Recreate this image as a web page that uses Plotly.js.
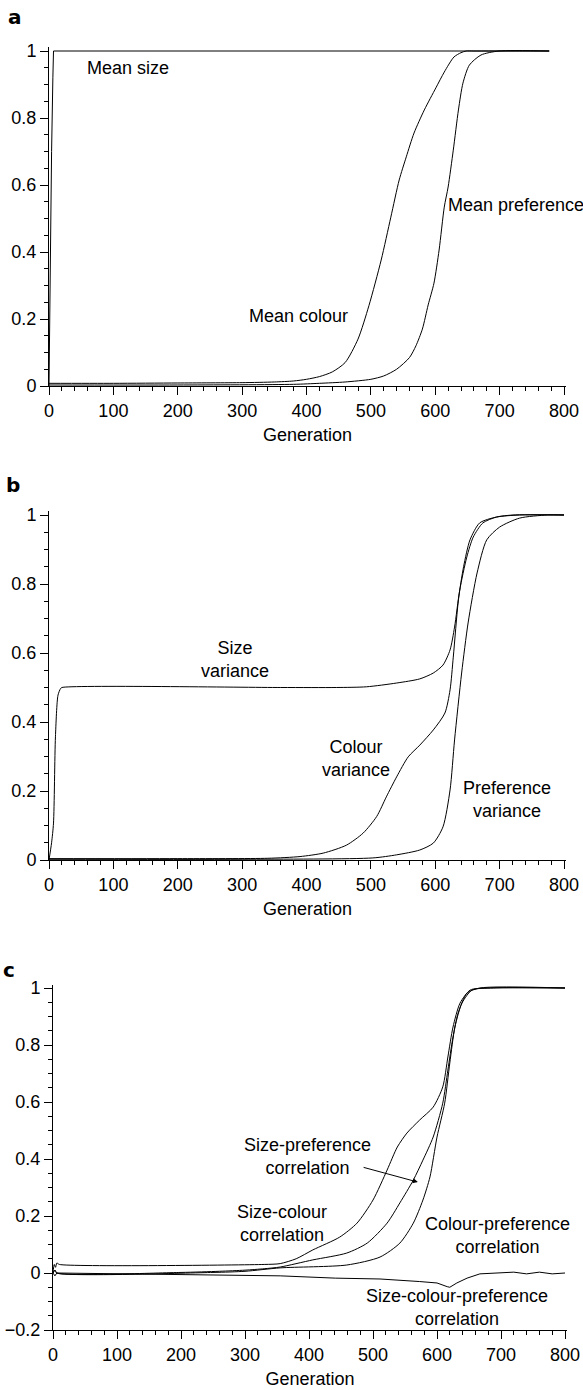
<!DOCTYPE html>
<html>
<head>
<meta charset="utf-8">
<script src="https://cdn.plot.ly/plotly-3.0.1.min.js"></script>
<style>html,body{margin:0;padding:0;background:#fff;}#chart{width:583px;height:1390px;}</style>
</head>
<body>
<div id="chart"></div>
<script>
// ---------- data ----------
const xTickVals = [0, 100, 200, 300, 400, 500, 600, 700, 800];
const xTickText = ["0", "100", "200", "300", "400", "500", "600", "700", "800"];
const yTickValsAB = [0, 0.2, 0.4, 0.6, 0.8, 1];
const yTickTextAB = ["0", "0.2", "0.4", "0.6", "0.8", "1"];
const yTickValsC = [-0.2, 0, 0.2, 0.4, 0.6, 0.8, 1];
const yTickTextC = ["\u22120.2", "0", "0.2", "0.4", "0.6", "0.8", "1"];

// panel a
const meanSizeGen = [0, 1, 2, 4, 6, 7, 777];
const meanSizeVal = [0, 0.2, 0.45, 0.7, 0.92, 1, 1];
const meanColourGen = [0, 100, 200, 300, 350, 380, 400, 420, 440, 460, 480, 497, 516, 531, 544, 555, 567, 583, 601, 614, 629, 640, 648, 660, 777];
const meanColourVal = [0.008, 0.008, 0.009, 0.01, 0.012, 0.015, 0.02, 0.028, 0.042, 0.07, 0.14, 0.24, 0.376, 0.504, 0.615, 0.684, 0.755, 0.824, 0.89, 0.937, 0.982, 0.995, 1, 1, 1];
const meanPrefGen = [0, 200, 380, 420, 460, 500, 520, 540, 560, 570, 580, 589, 598, 606, 614, 620, 628, 636, 643, 653, 671, 699, 777];
const meanPrefVal = [0.003, 0.003, 0.005, 0.008, 0.012, 0.02, 0.03, 0.05, 0.085, 0.12, 0.17, 0.242, 0.307, 0.406, 0.534, 0.594, 0.704, 0.824, 0.904, 0.958, 0.988, 1, 1];

// panel b
const sizeVarGen = [0, 4, 7, 10, 14, 18, 20, 360, 447, 493, 540, 576, 597, 612, 623, 630, 638, 649, 659, 674, 695, 721, 800];
const sizeVarVal = [0, 0.05, 0.107, 0.357, 0.478, 0.497, 0.5, 0.5, 0.5, 0.502, 0.513, 0.525, 0.542, 0.565, 0.609, 0.675, 0.782, 0.878, 0.936, 0.977, 0.994, 1, 1];
const colourVarGen = [0, 200, 340, 390, 426, 462, 488, 509, 524, 540, 558, 576, 597, 615, 623, 628, 636, 644, 654, 669, 695, 731, 800];
const colourVarVal = [0.004, 0.004, 0.005, 0.01, 0.02, 0.043, 0.078, 0.126, 0.183, 0.241, 0.299, 0.333, 0.377, 0.426, 0.493, 0.588, 0.754, 0.85, 0.928, 0.977, 0.994, 1, 1];
const prefVarGen = [0, 300, 503, 540, 576, 597, 612, 623, 630, 641, 651, 665, 680, 700, 731, 774, 800];
const prefVarVal = [0.002, 0.002, 0.006, 0.015, 0.029, 0.049, 0.096, 0.203, 0.348, 0.542, 0.687, 0.832, 0.928, 0.965, 0.991, 1, 1];

// panel c
const sizeColourGen = [0, 2, 4, 6, 10, 330, 355, 380, 406, 448, 475, 500, 522, 538, 553, 573, 594, 609, 617, 625, 636, 652, 678, 800];
const sizeColourVal = [0, 0.03, 0.02, 0.035, 0.03, 0.03, 0.033, 0.05, 0.081, 0.126, 0.175, 0.256, 0.361, 0.442, 0.491, 0.537, 0.582, 0.653, 0.758, 0.863, 0.947, 0.993, 1, 1];
const sizePrefGen = [0, 3, 6, 200, 260, 300, 330, 355, 406, 459, 491, 522, 542, 563, 578, 594, 609, 617, 625, 633, 647, 667, 800];
const sizePrefVal = [0, 0.01, 0, 0.002, 0.006, 0.01, 0.015, 0.021, 0.046, 0.07, 0.105, 0.175, 0.246, 0.326, 0.396, 0.477, 0.596, 0.712, 0.828, 0.912, 0.982, 1, 1];
const colourPrefGen = [0, 3, 6, 250, 300, 355, 459, 511, 542, 563, 578, 589, 600, 612, 620, 628, 639, 655, 688, 800];
const colourPrefVal = [0, 0.01, 0, 0.002, 0.006, 0.018, 0.028, 0.056, 0.105, 0.175, 0.256, 0.337, 0.477, 0.596, 0.737, 0.863, 0.947, 0.993, 1, 1];
const sizeColourPrefGen = [0, 3, 6, 100, 200, 300, 355, 441, 511, 573, 600, 616, 620, 631, 647, 667, 709, 720, 740, 760, 780, 800];
const sizeColourPrefVal = [0, -0.01, 0, -0.002, -0.005, -0.008, -0.01, -0.018, -0.021, -0.03, -0.035, -0.048, -0.05, -0.035, -0.018, -0.003, 0, 0.003, -0.003, 0.003, -0.003, 0];

// ---------- layout helpers (pixel placement of the three panels) ----------
const W = 583, H = 1390;
function xDom(p0, p800, lo, hi) { const k = (p800 - p0) / 800; return [(p0 + lo * k) / W, (p0 + hi * k) / W]; }
function yDom(pZero, pOne, lo, hi) { const k = pZero - pOne; return [1 - (pZero - lo * k) / H, 1 - (pZero - hi * k) / H]; }

const FONT = "Liberation Sans, Arial, Helvetica, sans-serif";

function tr(x, y, ax, smooth) {
  const line = smooth ? { color: "#000", width: 1, shape: "spline", smoothing: 0.7 } : { color: "#000", width: 1 };
  return { x: x, y: y, type: "scatter", mode: "lines", line: line, xaxis: "x" + ax, yaxis: "y" + ax, hoverinfo: "skip" };
}
const data = [
  tr(meanSizeGen, meanSizeVal, "", false),
  tr(meanColourGen, meanColourVal, "", true),
  tr(meanPrefGen, meanPrefVal, "", true),
  tr(sizeVarGen, sizeVarVal, "2", true),
  tr(colourVarGen, colourVarVal, "2", true),
  tr(prefVarGen, prefVarVal, "2", true),
  tr(sizeColourGen, sizeColourVal, "3", true),
  tr(sizePrefGen, sizePrefVal, "3", true),
  tr(colourPrefGen, colourPrefVal, "3", true),
  tr(sizeColourPrefGen, sizeColourPrefVal, "3", false)
];

function xAxis(anchor, domain) {
  return {
    anchor: anchor, domain: domain, range: [0, 803],
    tickmode: "array", tickvals: xTickVals, ticktext: xTickText,
    showline: true, linecolor: "#000", linewidth: 1, mirror: false,
    ticks: "outside", ticklen: 8, tickwidth: 1, tickcolor: "#000",
    minor: { ticks: "outside", ticklen: 4, tickwidth: 1, tickcolor: "#000", dtick: 20, tick0: 0, showgrid: false },
    showgrid: false, zeroline: false,
    tickfont: { family: FONT, size: 18, color: "#000" },
    title: { text: "Generation", font: { family: FONT, size: 18, color: "#000" }, standoff: 8 },
    fixedrange: true
  };
}
function yAxis(anchor, domain, range, vals, text) {
  return {
    anchor: anchor, domain: domain, range: range,
    tickmode: "array", tickvals: vals, ticktext: text,
    showline: true, linecolor: "#000", linewidth: 1,
    ticks: "outside", ticklen: 8, tickwidth: 1, tickcolor: "#000",
    minor: { ticks: "outside", ticklen: 4, tickwidth: 1, tickcolor: "#000", dtick: 0.05, tick0: 0, showgrid: false },
    showgrid: false, zeroline: false,
    tickfont: { family: FONT, size: 18, color: "#000" },
    fixedrange: true
  };
}

function note(text, x, y, ax, xanchor) {
  return { text: text, x: x, y: y, xref: "x" + ax, yref: "y" + ax, showarrow: false,
           xanchor: xanchor || "center", yanchor: "middle", align: "center",
           font: { family: FONT, size: 18, color: "#000" } };
}
function panelLetter(t, px, py) {
  return { text: "<b>" + t + "</b>", x: px / W, y: 1 - py / H, xref: "paper", yref: "paper", showarrow: false,
           xanchor: "center", yanchor: "middle", font: { family: "DejaVu Sans, sans-serif", size: 20, color: "#000" } };
}

const annotations = [
  panelLetter("a", 15, 17),
  panelLetter("b", 13, 485),
  panelLetter("c", 9, 970),
  note("Mean size", 123, 0.949, ""),
  note("Mean colour", 387, 0.209, ""),
  note("Mean preference", 617, 0.54, "", "left"),
  note("Size<br>variance", 289, 0.58, "2"),
  note("Colour<br>variance", 477, 0.293, "2"),
  note("Preference<br>variance", 711, 0.174, "2"),
  note("Size-preference<br>correlation", 398, 0.41, "3"),
  note("Size-colour<br>correlation", 358, 0.175, "3"),
  note("Colour-preference<br>correlation", 695, 0.13, "3"),
  note("Size-colour-preference<br>correlation", 631, -0.12, "3"),
  { text: "", x: 570, y: 0.319, xref: "x3", yref: "y3", ax: 483, ay: 0.372, axref: "x3", ayref: "y3",
    showarrow: true, arrowhead: 2, arrowsize: 1, arrowwidth: 1, arrowcolor: "#000" }
];

const layout = {
  width: W, height: H,
  margin: { l: 0, r: 0, t: 0, b: 0 },
  paper_bgcolor: "#fff", plot_bgcolor: "#fff",
  showlegend: false, hovermode: false,
  font: { family: FONT, size: 18, color: "#000" },
  xaxis: xAxis("y", xDom(49, 564, 0, 803)),
  yaxis: yAxis("x", yDom(386, 51, 0, 1.012), [0, 1.012], yTickValsAB, yTickTextAB),
  xaxis2: xAxis("y2", xDom(49, 564, 0, 803)),
  yaxis2: yAxis("x2", yDom(860, 515, 0, 1.012), [0, 1.012], yTickValsAB, yTickTextAB),
  xaxis3: xAxis("y3", xDom(53, 565, 0, 803)),
  yaxis3: yAxis("x3", yDom(1273, 988, -0.2, 1.012), [-0.2, 1.012], yTickValsC, yTickTextC),
  annotations: annotations
};

Plotly.newPlot("chart", data, layout, { staticPlot: true, displayModeBar: false });
</script>
</body>
</html>
